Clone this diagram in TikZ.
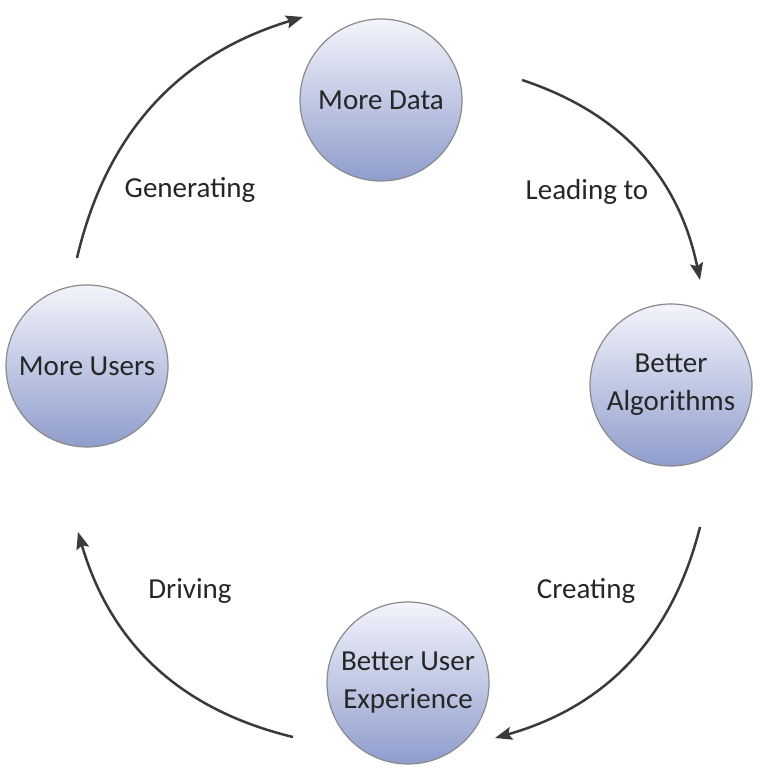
\documentclass[tikz,border=0pt]{standalone}
\usepackage{fontspec}
\setmainfont{Carlito}
\usepackage{tikz}
\usetikzlibrary{arrows.meta}
\definecolor{ballTop}{HTML}{F3F4FB}
\definecolor{ballBottom}{HTML}{8F9DCD}
\definecolor{ballLine}{HTML}{8A8A8A}
\definecolor{pilGray}{HTML}{3A3A3A}
\tikzset{
    %Define standard arrow tip
    >={Stealth[length=17pt,width=13pt,inset=3pt]},
    %Define style for circles
    ball/.style={
           circle,
           draw=ballLine, line width=1.2pt,
           top color=ballTop,
           bottom color=ballBottom,
           minimum size=162pt,
           inner sep=0pt,
           align=center,
           text=black!85,
           font=\fontsize{29}{38}\selectfont},
    % Define arrow style
    pil/.style={
           ->,
           draw=pilGray,
           line width=2.5pt,
           bend left=30},
    % Define label style
    lbl/.style={
           text=black!85,
           font=\fontsize{29}{38}\selectfont}
}
\begin{document}
\begin{tikzpicture}[x=1pt,y=1pt]
\useasboundingbox (0,0) rectangle (762,775);

 %circles
\node[ball](1) at (381,675){More Data};
\node[ball](2) at (671,390){Better\\Algorithms};
\node[ball](3) at (408,92){Better User\\Experience};
\node[ball](4) at (87,409){More Users};

 %arrow ends
\coordinate (a1) at (522,695);
\coordinate (a2) at (700,495);
\coordinate (b1) at (700,248);
\coordinate (b2) at (495,37);
\coordinate (c1) at (293,38);
\coordinate (c2) at (78,243);
\coordinate (d1) at (77,517);
\coordinate (d2) at (303,758);

 %labels
\node[lbl](la) at (587,583){Leading to};
\node[lbl](lb) at (586,184){Creating};
\node[lbl](lc) at (190,184){Driving};
\node[lbl](ld) at (190,585){Generating};

\draw[pil] (a1) to (a2);
\draw[pil] (b1) to (b2);
\draw[pil] (c1) to (c2);
\draw[pil] (d1) to (d2);
\end{tikzpicture}
\end{document}
